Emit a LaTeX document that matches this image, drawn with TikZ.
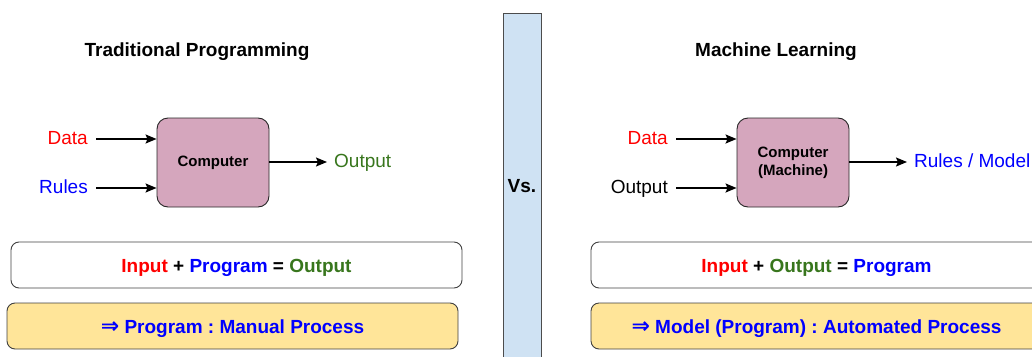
\documentclass[tikz,border=0pt]{standalone}
\usepackage{fontspec}
\setmainfont{Liberation Sans}
\newfontfamily\arrowfont{DejaVu Sans}
\usetikzlibrary{calc,arrows.meta}
\definecolor{cpufill}{HTML}{D5A6BD}
\definecolor{notefill}{HTML}{FFE599}
\definecolor{barfill}{HTML}{CFE2F3}
\definecolor{outgreen}{HTML}{38761D}
\definecolor{prgblue}{HTML}{0000FF}
\definecolor{inred}{HTML}{FF0000}
\frenchspacing

\begin{document}
\begin{tikzpicture}[x=1pt,y=-1pt,
		every node/.style={font=\fontsize{19}{22}\selectfont},
		cpu/.style={draw=black!85,line width=0.9pt,fill=cpufill,rounded corners=11pt,minimum width=112pt,minimum height=89pt,align=center,font=\fontsize{15}{18}\selectfont\bfseries},
		lbl/.style={text height=14pt,text depth=4pt,inner sep=3pt},
		eqbox/.style={draw=black!75,line width=0.9pt,rounded corners=8pt,minimum width=451pt,minimum height=46pt,text height=14pt,text depth=0pt,font=\fontsize{19}{22}\selectfont\bfseries},
		notebox/.style={eqbox,fill=notefill,text=prgblue},
		arr/.style={line width=1.6pt,-{Stealth[length=11pt,width=9pt,inset=2pt]}}]
			\useasboundingbox (0,0) rectangle (1032,356);
			\coordinate (T1) at (197,49);
			\coordinate (T2) at (776,49);
			\coordinate (C1) at (213,162.5);
			\coordinate (C2) at (793,162.5);
			\coordinate (V) at (522,186.5);
			% the bar in the middle
			\node[draw=black!70,line width=0.9pt,fill=barfill,minimum width=38pt,minimum height=347pt,font=\fontsize{19}{22}\selectfont\bfseries] (vs) at (V) {Vs.};
			% traditional programming
			\node at (T1) [font=\fontsize{19}{22}\selectfont\bfseries,text height=14pt,text depth=0pt] (title1) {Traditional Programming};
			\node[cpu] (comp1) at (C1) {Computer};
			\node[lbl,text=inred,anchor=east] (data1) at (91,139) {Data};
			\node[lbl,text=prgblue,anchor=east] (rules1) at (91,188) {Rules};
			\node[lbl,text=outgreen,anchor=west] (out1) at (331,162) {Output};
			\draw[arr,shorten <=5pt] (data1.east) -- (comp1.west |- data1.east);
			\draw[arr,shorten <=5pt] (rules1.east) -- (comp1.west |- rules1.east);
			\draw[arr,shorten >=4pt] (comp1.east |- out1.west) -- (out1.west);
			\node[eqbox] (eq1) at (236.5,265) {\textcolor{inred}{Input} + \textcolor{prgblue}{Program} = \textcolor{outgreen}{Output}};
			\node[notebox] (note1) at (232.5,326) {{\arrowfont\bfseries\fontsize{22}{22}\selectfont ⇒} Program : Manual Process};
			% machine learning
			\node at (T2) [font=\fontsize{19}{22}\selectfont\bfseries,text height=14pt,text depth=0pt] (title2) {Machine Learning};
			\node[cpu] (comp2) at (C2) {Computer\\(Machine)};
			\node[lbl,text=inred,anchor=east] (data2) at (671,139) {Data};
			\node[lbl,anchor=east] (out2) at (671,188) {Output};
			\node[lbl,text=prgblue,anchor=west] (rules2) at (911,162) {Rules / Model};
			\draw[arr,shorten <=5pt] (data2.east) -- (comp2.west |- data2.east);
			\draw[arr,shorten <=5pt] (out2.east) -- (comp2.west |- out2.east);
			\draw[arr,shorten >=4pt] (comp2.east |- rules2.west) -- (rules2.west);
			\node[eqbox] (eq2) at (816.5,265) {\textcolor{inred}{Input} + \textcolor{outgreen}{Output} = \textcolor{prgblue}{Program}};
			\node[notebox] (note2) at (816.5,326) {{\arrowfont\bfseries\fontsize{22}{22}\selectfont ⇒} Model (Program) : Automated Process};
		\end{tikzpicture}
\end{document}
